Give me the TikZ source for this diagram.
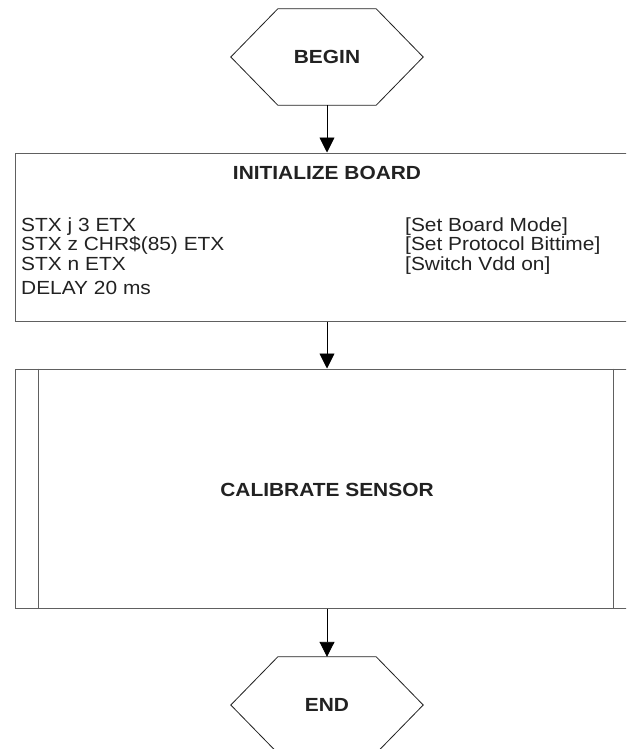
\documentclass[tikz,border=0pt]{standalone}
\usepackage{fontspec}
\setmainfont[FakeStretch=1.1]{Liberation Sans}
\usetikzlibrary{arrows.meta}
\definecolor{txt}{HTML}{222222}
\definecolor{frame}{HTML}{606060}
\begin{document}
\begin{tikzpicture}[x=1pt,y=-1pt,
  every node/.style={text=txt, font=\fontsize{19}{22}\selectfont, inner sep=0pt},
  hexnode/.style={minimum width=192pt, minimum height=96pt, font=\fontsize{19}{22}\selectfont\bfseries},
  hexline/.style={draw=txt, line width=0.8pt, line join=miter},
  boxnode/.style={draw=frame, line width=1pt, minimum width=625pt},
  titletext/.style={font=\fontsize{19}{22}\selectfont\bfseries},
  linetext/.style={anchor=base west},
  flow/.style={draw=black, line width=0.9pt, -{Triangle[width=15pt,length=15pt]}}
]
\useasboundingbox (0,0) rectangle (626,749);
\clip (0,0) rectangle (626,749);
\fill[white] (0,0) rectangle (626,749);

% terminals
\node[hexnode] (begin) at (327,57) {BEGIN};
\node[hexnode] (finish) at (327,705) {END};
\foreach \n in {begin,finish}
  \draw[hexline] (\n.west) -- ([xshift=47pt]\n.north west) -- ([xshift=-47pt]\n.north east)
     -- (\n.east) -- ([xshift=-47pt]\n.south east) -- ([xshift=47pt]\n.south west) -- cycle;

% initialize board
\node[boxnode, minimum height=168pt] (init) at (327.5,237) {};
\node[titletext] (inittitle) at (327,173) {INITIALIZE BOARD};
\node[linetext] (l1) at (21,231) {STX j 3 ETX};
\node[linetext] (l2) at (21,250.5) {STX z CHR\$(85) ETX};
\node[linetext] (l3) at (21,270) {STX n ETX};
\node[linetext] (l4) at (21,294) {DELAY 20 ms};
\node[linetext] (r1) at (405,231) {[Set Board Mode]};
\node[linetext] (r2) at (405,250.5) {[Set Protocol Bittime]};
\node[linetext] (r3) at (405,270) {[Switch Vdd on]};

% calibrate sensor (predefined process)
\node[boxnode, minimum height=239pt] (cal) at (327.5,488.5) {};
\draw[draw=frame, line width=1pt] ([xshift=24pt]cal.north west) -- ([xshift=24pt]cal.south west);
\draw[draw=frame, line width=1pt] ([xshift=599pt]cal.north west) -- ([xshift=599pt]cal.south west);
\node[titletext] (caltitle) at (327,490) {CALIBRATE SENSOR};

% connectors
\draw[flow] (begin.south) -- (begin.south |- init.north);
\draw[flow] (begin.south |- init.south) -- (begin.south |- cal.north);
\draw[flow] (begin.south |- cal.south) -- (finish.north);
\end{tikzpicture}
\end{document}
